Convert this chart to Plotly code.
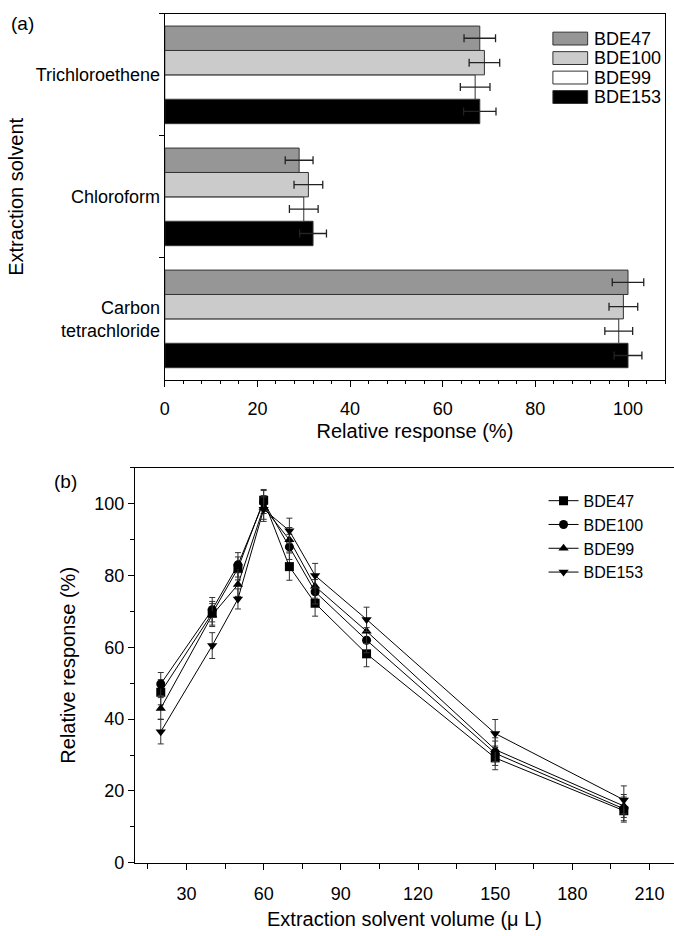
import plotly.graph_objects as go

# ---------------- Data: panel (a) ----------------
solvents = ["Carbon<br>tetrachloride", "Chloroform", "Trichloroethene"]
bar_series = ["BDE47", "BDE100", "BDE99", "BDE153"]
bar_fill = {"BDE47": "#969696", "BDE100": "#cbcbcb", "BDE99": "#ffffff", "BDE153": "#000000"}
resp_bde47 = [100, 29, 68]
resp_bde100 = [99, 31, 69]
resp_bde99 = [98, 30, 67]
resp_bde153 = [100, 32, 68]
err_bde47 = [3.4, 3.0, 3.4]
err_bde100 = [3.1, 3.1, 3.3]
err_bde99 = [3.0, 3.1, 3.2]
err_bde153 = [3.0, 2.9, 3.5]

bar_vals = {"BDE47": resp_bde47, "BDE100": resp_bde100, "BDE99": resp_bde99, "BDE153": resp_bde153}
bar_errs = {"BDE47": err_bde47, "BDE100": err_bde100, "BDE99": err_bde99, "BDE153": err_bde153}

# ---------------- Data: panel (b) ----------------
volumes = [20, 40, 50, 60, 70, 80, 100, 150, 200]
vol_bde47 = [47.5, 69.5, 82.0, 101.0, 82.5, 72.3, 58.2, 29.2, 14.5]
vol_bde100 = [49.8, 70.5, 83.0, 100.5, 88.0, 75.5, 62.0, 30.5, 15.0]
vol_bde99 = [43.0, 69.0, 77.5, 99.0, 90.0, 77.0, 64.5, 31.5, 15.8]
vol_bde153 = [36.5, 60.5, 73.5, 98.5, 92.5, 80.0, 67.8, 36.0, 17.5]
verr_bde47 = [3.5, 3.3, 3.2, 3.0, 3.8, 3.6, 3.6, 3.3, 3.2]
verr_bde100 = [3.2, 3.4, 3.4, 3.2, 3.5, 3.4, 3.5, 3.4, 3.3]
verr_bde99 = [3.0, 3.2, 3.3, 3.3, 3.4, 3.3, 3.4, 3.3, 3.2]
verr_bde153 = [3.4, 3.6, 2.8, 3.4, 3.5, 3.4, 3.4, 3.9, 3.9]

line_series = ["BDE47", "BDE100", "BDE99", "BDE153"]
line_vals = {"BDE47": vol_bde47, "BDE100": vol_bde100, "BDE99": vol_bde99, "BDE153": vol_bde153}
line_errs = {"BDE47": verr_bde47, "BDE100": verr_bde100, "BDE99": verr_bde99, "BDE153": verr_bde153}
line_symbols = {"BDE47": "square", "BDE100": "circle", "BDE99": "triangle-up", "BDE153": "triangle-down"}

FONT = "Liberation Sans, Arial, Helvetica, sans-serif"
W, H = 674, 936

fig = go.Figure()

# Panel (a) bars: add bottom-most first so BDE47 sits on top of each group
for name in reversed(bar_series):
    fig.add_trace(go.Bar(
        y=solvents, x=bar_vals[name], orientation="h", name=name,
        marker=dict(color=bar_fill[name], line=dict(color="#333333", width=1)),
        error_x=dict(type="data", array=bar_errs[name], color="#222222", thickness=1.3, width=4),
        showlegend=False, xaxis="x", yaxis="y",
    ))

# Panel (b) lines
for name in line_series:
    fig.add_trace(go.Scatter(
        x=volumes, y=line_vals[name], mode="lines+markers", name=name,
        marker=dict(symbol=line_symbols[name], size=9, color="black"),
        line=dict(color="black", width=1),
        error_y=dict(type="data", array=line_errs[name], color="#333333", thickness=1, width=3),
        xaxis="x2", yaxis="y2", legend="legend2",
    ))

axis_common = dict(showline=True, linecolor="black", linewidth=1.2, showgrid=False,
                   zeroline=False, ticks="outside", tickcolor="black", tickwidth=1.2,
                   tickfont=dict(size=18, color="black"))

# Panel geometry (pixels -> paper)
a_left, a_right, a_top, a_bot = 161, 665, 14, 384
b_left, b_right, b_top, b_bot = 131, 674, 473, 872

fig.update_layout(
    width=W, height=H, margin=dict(l=0, r=0, t=0, b=0),
    paper_bgcolor="white", plot_bgcolor="white",
    font=dict(family=FONT, size=18, color="black"),
    barmode="group", bargap=0.2, bargroupgap=0,
    xaxis=dict(domain=[a_left / W, a_right / W], anchor="y", range=[0, 108],
               tickmode="linear", tick0=0, dtick=20, ticklen=6, mirror=True,
               ticklabelstandoff=6,
               minor=dict(dtick=4, tick0=0, ticklen=3, ticks="outside", tickcolor="black"),
               title=dict(text="Relative response (%)", font=dict(size=20), standoff=6),
               **axis_common),
    yaxis=dict(domain=[1 - a_bot / H, 1 - a_top / H], anchor="x", type="category",
               categoryorder="array", categoryarray=solvents, tickson="boundaries",
               ticklen=5, mirror=True,
               title=dict(text="Extraction solvent", font=dict(size=20), standoff=6),
               **axis_common),
    xaxis2=dict(domain=[b_left / W, b_right / W], anchor="y2", range=[10, 219.5],
                tickmode="linear", tick0=30, dtick=30, ticklen=6, mirror=True,
                ticklabelstandoff=9,
                minor=dict(dtick=15, tick0=15, ticklen=5, ticks="outside", tickcolor="black"),
                title=dict(text="Extraction solvent volume (\u03bc L)", font=dict(size=20), standoff=8),
                **axis_common),
    yaxis2=dict(domain=[1 - b_bot / H, 1 - b_top / H], anchor="x2", range=[0, 110],
                tickmode="linear", tick0=0, dtick=20, ticklen=6,
                minor=dict(dtick=10, tick0=0, ticklen=4, ticks="outside", tickcolor="black"),
                title=dict(text="Relative response (%)", font=dict(size=20), standoff=13),
                **axis_common),
    legend2=dict(x=0.805, y=1 - 489 / H, xanchor="left", yanchor="top",
                 bgcolor="rgba(0,0,0,0)", font=dict(size=16), tracegroupgap=0),
)

# Panel (a) legend: wide swatches like the original
shapes = []
annotations = []
sw_x0, sw_x1 = 552 / W, 587 / W
for i, name in enumerate(bar_series):
    yc = 1 - (39 + i * 19.7) / H
    hh = 6.5 / H
    shapes.append(dict(type="rect", xref="paper", yref="paper", x0=sw_x0, x1=sw_x1,
                       y0=yc - hh, y1=yc + hh, fillcolor=bar_fill[name],
                       line=dict(color="#333333", width=1)))
    annotations.append(dict(text=name, xref="paper", yref="paper", x=591 / W, y=yc,
                            xanchor="left", yanchor="middle", showarrow=False,
                            font=dict(size=18)))

annotations.append(dict(text="(a)", xref="paper", yref="paper", x=4 / W, y=1 - 24 / H,
                        xanchor="left", yanchor="middle", showarrow=False, font=dict(size=19)))
annotations.append(dict(text="(b)", xref="paper", yref="paper", x=47 / W, y=1 - 487 / H,
                        xanchor="left", yanchor="middle", showarrow=False, font=dict(size=19)))

fig.update_layout(shapes=shapes, annotations=annotations)

fig.write_html("out.html")
